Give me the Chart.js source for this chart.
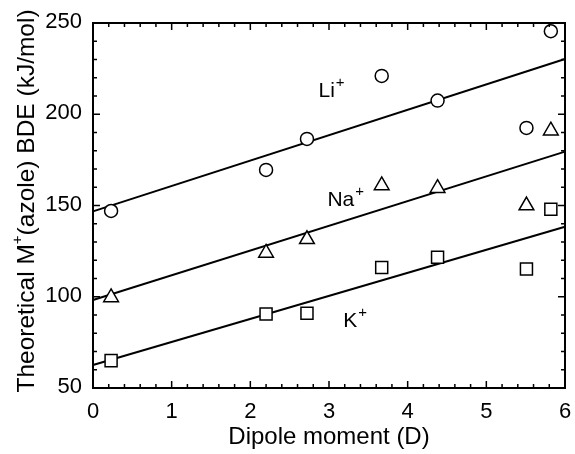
<!DOCTYPE html>
<html lang="en">
<head>
  <meta charset="UTF-8">
  <title>Dipole moment vs BDE</title>
  <script src="https://cdn.jsdelivr.net/npm/chart.js"></script>
  <style>
    html, body {
      margin: 0;
      padding: 0;
      background: #fff;
    }
    .chart-container {
      width: 575px;
      height: 454px;
    }
  </style>
</head>
<body>
  <div class="chart-container">
    <canvas id="bdeChart"></canvas>
  </div>

  <script>
    // Dipole moment of each azole (D)
    const dipole = [0.23, 2.20, 2.72, 3.67, 4.38, 5.51, 5.82];

    // Theoretical M+(azole) BDEs (kJ/mol)
    const liBDE = [147, 169.5, 186.5, 221, 207.5, 192.5, 245.5];
    const naBDE = [99.6, 124, 131.5, 161, 159.5, 150, 191];
    const kBDE = [65, 90.5, 91, 116, 121.6, 115.2, 148];

    // Linear fits, read at the ends of the axis
    const fitX = [0, 6];
    const liFit = [146.8, 230.3];
    const naFit = [98.2, 179.5];
    const kFit = [62.6, 138.4];

    // Axis ticks
    const xTicks = [0, 1, 2, 3, 4, 5, 6];
    const yTicks = [50, 100, 150, 200, 250];
    const xMinorStep = 0.2;
    const yMinorStep = 10;

    // Series labels written inside the plot (data units)
    const ionLabels = [
      { text: "Li", x: 2.866, y: 209.3 },
      { text: "Na", x: 2.98, y: 149.9 },
      { text: "K", x: 3.18, y: 83.6 }
    ];

    const FONT = "Arial, 'Liberation Sans', Helvetica, sans-serif";

    function toPoints(xs, ys) {
      return xs.map((x, i) => ({ x: x, y: ys[i] }));
    }

    function markerSet(data, style, radius) {
      return {
        type: "scatter",
        data: data,
        pointStyle: style,
        pointRadius: radius,
        pointHoverRadius: radius,
        pointBackgroundColor: "#fff",
        pointBorderColor: "#000",
        pointBorderWidth: 1.5,
        showLine: false,
        clip: false,
        order: 1
      };
    }

    function fitSet(data) {
      return {
        type: "line",
        data: data,
        borderColor: "#000",
        borderWidth: 2,
        pointRadius: 0,
        fill: false,
        tension: 0,
        clip: false,
        order: 2
      };
    }

    // Frame, inward ticks, tick labels, axis titles and ion labels
    const framePlugin = {
      id: "frame",
      afterDraw(chart) {
        const ctx = chart.ctx;
        const xs = chart.scales.x;
        const ys = chart.scales.y;
        const a = chart.chartArea;

        ctx.save();
        ctx.strokeStyle = "#000";
        ctx.fillStyle = "#000";

        // ticks
        ctx.lineWidth = 1.5;
        ctx.beginPath();
        for (let v = xs.min; v <= xs.max + 1e-6; v += xMinorStep) {
          const px = xs.getPixelForValue(v);
          const major = xTicks.some(t => Math.abs(t - v) < 1e-6);
          const len = major ? 7 : 4;
          ctx.moveTo(px, a.bottom);
          ctx.lineTo(px, a.bottom - len);
          ctx.moveTo(px, a.top);
          ctx.lineTo(px, a.top + len);
        }
        for (let v = ys.min; v <= ys.max + 1e-6; v += yMinorStep) {
          const py = ys.getPixelForValue(v);
          const major = yTicks.some(t => Math.abs(t - v) < 1e-6);
          const len = major ? 7 : 4;
          ctx.moveTo(a.left, py);
          ctx.lineTo(a.left + len, py);
          ctx.moveTo(a.right, py);
          ctx.lineTo(a.right - len, py);
        }
        ctx.stroke();

        // frame
        ctx.lineWidth = 2;
        ctx.strokeRect(a.left, a.top, a.right - a.left, a.bottom - a.top);

        // tick labels
        ctx.font = "22px " + FONT;
        ctx.textAlign = "center";
        ctx.textBaseline = "alphabetic";
        xTicks.forEach(t => {
          ctx.fillText(String(t), xs.getPixelForValue(t), a.bottom + 30);
        });
        ctx.textAlign = "right";
        ctx.textBaseline = "middle";
        yTicks.forEach(t => {
          ctx.fillText(String(t), a.left - 11, ys.getPixelForValue(t) - 1);
        });

        // x title
        ctx.font = "24px " + FONT;
        ctx.textAlign = "center";
        ctx.textBaseline = "alphabetic";
        ctx.fillText("Dipole moment (D)", (a.left + a.right) / 2, 444);

        // y title with superscript +
        ctx.save();
        ctx.translate(34, 201);
        ctx.rotate(-Math.PI / 2);
        const big = "24.5px " + FONT;
        const small = "15px " + FONT;
        const parts = [
          { t: "Theoretical M", f: big, dy: 0 },
          { t: "+", f: small, dy: -12 },
          { t: "(azole) BDE (kJ/mol)", f: big, dy: 0 }
        ];
        let total = 0;
        parts.forEach(p => { ctx.font = p.f; total += ctx.measureText(p.t).width; });
        let cx = -total / 2;
        ctx.textAlign = "left";
        parts.forEach(p => {
          ctx.font = p.f;
          ctx.fillText(p.t, cx, p.dy);
          cx += ctx.measureText(p.t).width;
        });
        ctx.restore();

        // ion labels
        ionLabels.forEach(l => {
          const px = xs.getPixelForValue(l.x);
          const py = ys.getPixelForValue(l.y);
          ctx.font = "21px " + FONT;
          ctx.textAlign = "left";
          ctx.fillText(l.text, px, py);
          const w = ctx.measureText(l.text).width;
          ctx.font = "15px " + FONT;
          ctx.fillText("+", px + w + 1, py - 10);
        });

        ctx.restore();
      }
    };

    const ctx = document.getElementById("bdeChart").getContext("2d");

    new Chart(ctx, {
      data: {
        datasets: [
          fitSet(toPoints(fitX, liFit)),
          fitSet(toPoints(fitX, naFit)),
          fitSet(toPoints(fitX, kFit)),
          markerSet(toPoints(dipole, liBDE), "circle", 6.5),
          markerSet(toPoints(dipole, naBDE), "triangle", 8.5),
          markerSet(toPoints(dipole, kBDE), "rect", 8.5)
        ]
      },
      options: {
        responsive: true,
        maintainAspectRatio: false,
        animation: false,
        layout: {
          padding: { left: 93, top: 23, right: 7, bottom: 66 }
        },
        plugins: {
          legend: { display: false },
          tooltip: { enabled: false }
        },
        scales: {
          x: { type: "linear", min: 0, max: 6, display: false },
          y: { type: "linear", min: 50, max: 250, display: false }
        }
      },
      plugins: [framePlugin]
    });
  </script>
</body>
</html>
